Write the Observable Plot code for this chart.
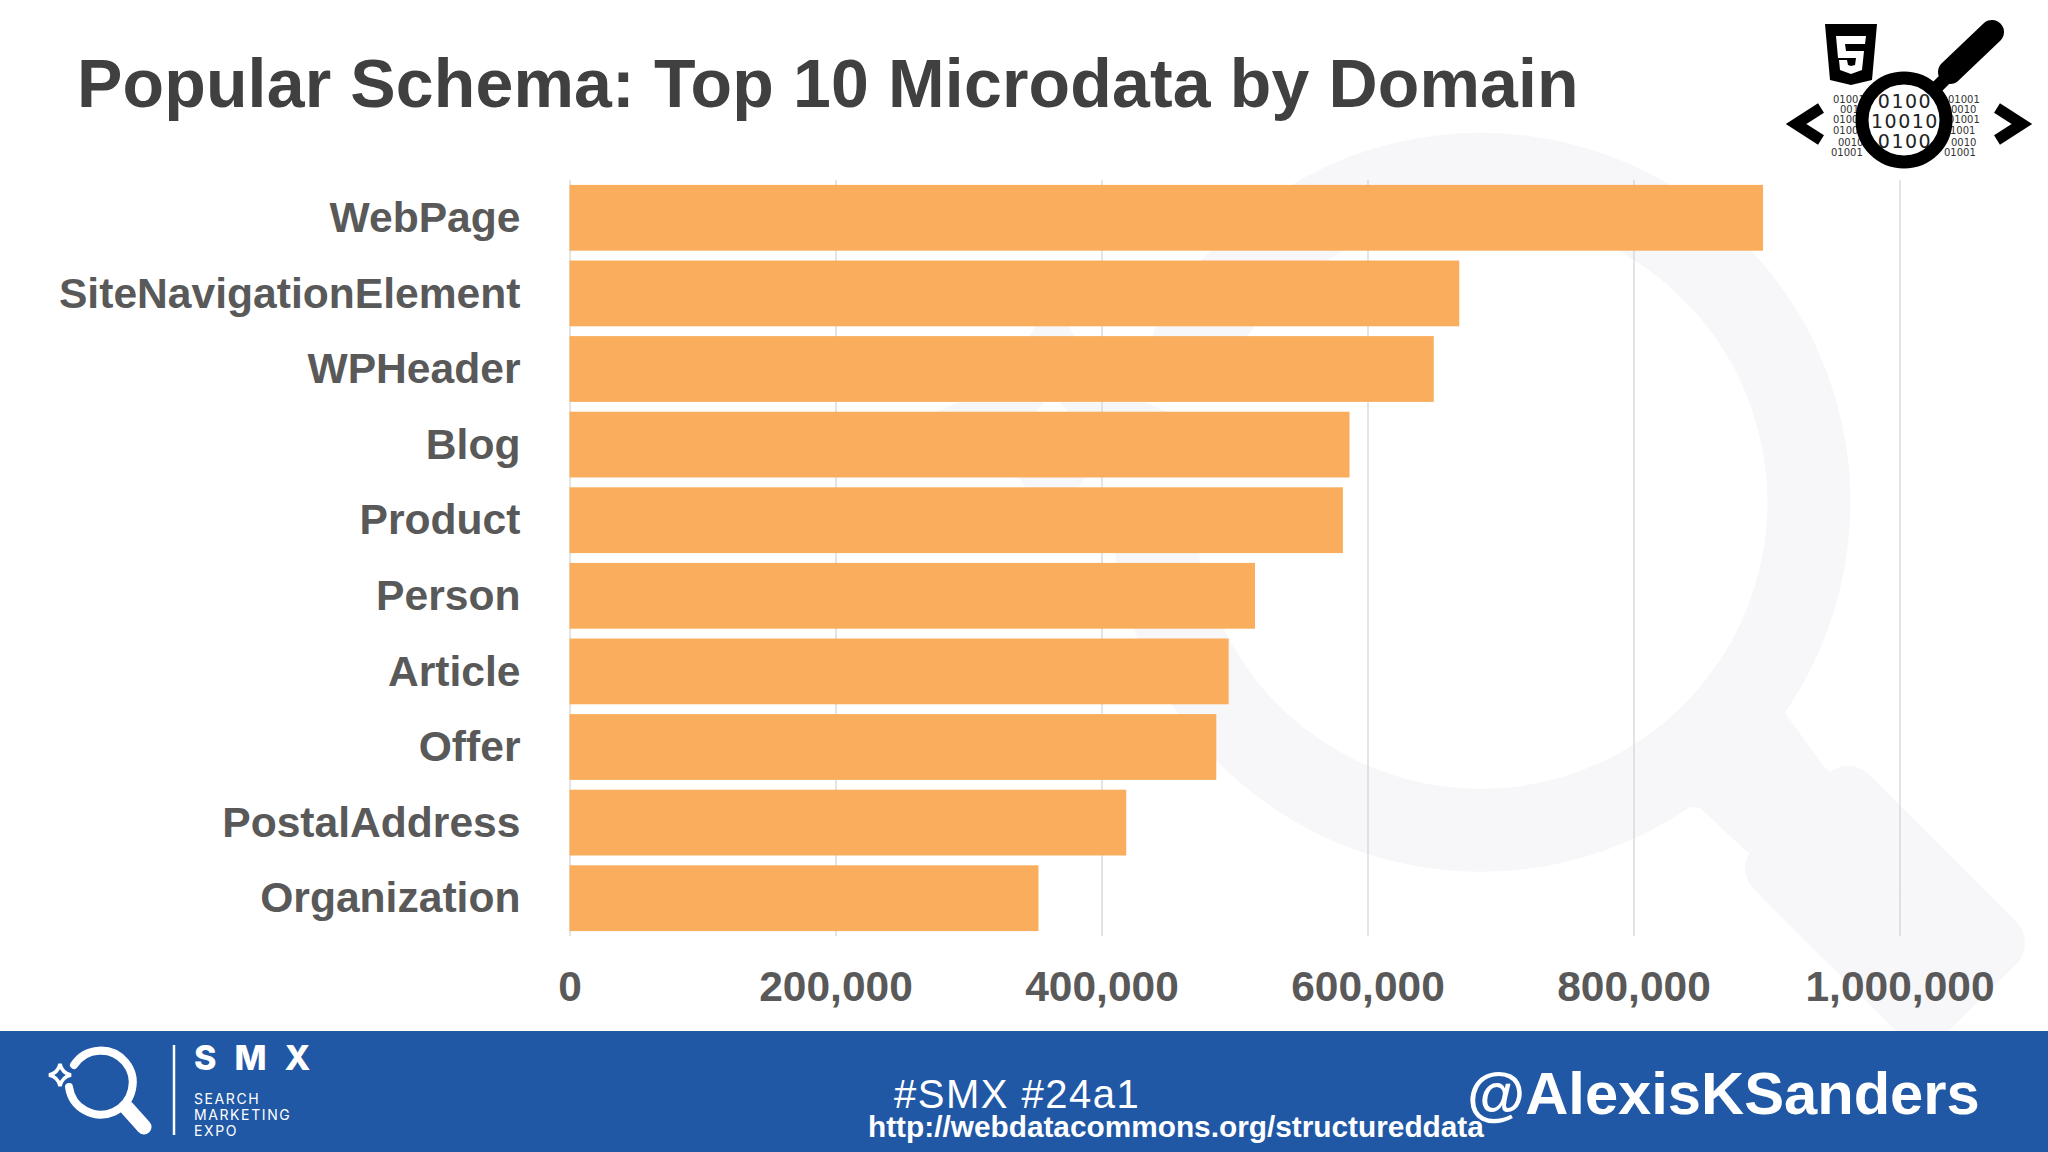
<!DOCTYPE html>
<html>
<head>
<meta charset="utf-8">
<script src="https://cdn.jsdelivr.net/npm/d3@7"></script>
<script src="https://cdn.jsdelivr.net/npm/@observablehq/plot@0.6"></script>
<style>
  html, body { margin: 0; padding: 0; background: #fff; overflow: hidden; }
  #page { position: relative; width: 2048px; height: 1152px; overflow: hidden; font-family: "Liberation Sans", Arial, sans-serif; }
  #page > * { position: absolute; }
  #watermark, #logo, #smx { left: 0; top: 0; }
  #chart { left: 0; top: 0; }
  #title { left: 77px; top: 44px; margin: 0; font-size: 68px; line-height: 78px; font-weight: bold; letter-spacing: 0.16px; color: #404040; white-space: nowrap; }
  #footer { left: 0; top: 1031px; width: 2048px; height: 121px; background: #2058a6; }
  .foot { color: #fff; white-space: nowrap; }
</style>
</head>
<body>
<div id="page">
  <svg id="watermark" width="2048" height="1152" viewBox="0 0 2048 1152">
    <g fill="#f7f6f9">
      <path d="M1193 345 A328 328 0 1 1 1155 540" fill="none" stroke="#f7f6f9" stroke-width="83" stroke-linecap="round"/>
      <path d="M1740 640 L1788 717 L1825 768 L1870 800 L1790 880 L1745 850 L1700 808 L1640 800 Z"/>
      <path d="M1848 796 L1995 943 L1922 1015 L1775 868 Z" stroke="#f7f6f9" stroke-width="60" stroke-linejoin="round"/>
      <path fill-rule="evenodd" d="M1052 285 Q1082 385 1177 415 Q1082 445 1052 545 Q1022 445 927 415 Q1022 385 1052 285 Z M1052 395 L1032 415 L1052 435 L1072 415 Z"/>
    </g>
  </svg>
  <h1 id="title">Popular Schema: Top 10 Microdata by Domain</h1>
  <div id="chart"></div>
  <svg id="logo" width="2048" height="1152" viewBox="0 0 2048 1152">
    <path d="M1825 24 H1877 L1872 80 L1851 85 L1830 80 Z" fill="#000"/>
    <path d="M1836 36 H1866 L1865 44 H1845 L1846 51 H1864 L1862 70 L1851 74 L1840 70 L1839 60 H1847 L1848 65 L1851 66 L1855 65 L1856 58 H1838 Z" fill="#fff"/>
    <path d="M1821 108 L1796 124 L1821 140" fill="none" stroke="#000" stroke-width="11"/>
    <path d="M1997 108 L2022 124 L1997 140" fill="none" stroke="#000" stroke-width="11"/>
    <g font-family="DejaVu Sans" font-size="10" fill="#333">
      <text x="1833" y="103">01001</text><text x="1840" y="113">0010</text><text x="1833" y="123">01001</text>
      <text x="1833" y="134">01001</text><text x="1838" y="146">0010</text><text x="1831" y="156">01001</text>
      <text x="1948" y="103">01001</text><text x="1951" y="113">0010</text><text x="1948" y="123">01001</text>
      <text x="1950" y="134">1001</text><text x="1951" y="146">0010</text><text x="1944" y="156">01001</text>
    </g>
    <circle cx="1904" cy="120" r="42" fill="#fff"/>
    <g font-family="DejaVu Sans" font-size="19" letter-spacing="1.5" fill="#222" text-anchor="middle">
      <text x="1905" y="108">0100</text><text x="1905" y="128">10010</text><text x="1905" y="148">0100</text>
    </g>
    <circle cx="1904" cy="120" r="42" fill="none" stroke="#000" stroke-width="13"/>
    <path d="M1936 88 L1950 74" stroke="#000" stroke-width="13"/>
    <path d="M1950 72 L1992 32" stroke="#000" stroke-width="24" stroke-linecap="round"/>
  </svg>
  <div id="footer"></div>
  <svg id="smx" width="2048" height="1152" viewBox="0 0 2048 1152">
    <path d="M74 1065 A32 32 0 1 1 69 1087" fill="none" stroke="#fff" stroke-width="8" stroke-linecap="round"/>
    <path d="M127 1108 L144 1127" stroke="#fff" stroke-width="15" stroke-linecap="round"/>
    <path d="M60 1064 Q62 1073 71 1075 Q62 1077 60 1086 Q58 1077 49 1075 Q58 1073 60 1064 Z" fill="none" stroke="#fff" stroke-width="3.5"/>
    <path d="M174 1045 V1135" stroke="#fff" stroke-width="2.5"/>
    <g fill="#fff" font-family="Inter, 'Noto Sans', sans-serif">
      <text x="194" y="1070" font-size="34" font-weight="800" letter-spacing="18">SMX</text>
      <text x="194" y="1104" font-size="14" letter-spacing="1.6">SEARCH</text>
      <text x="194" y="1120" font-size="14" letter-spacing="1.6">MARKETING</text>
      <text x="194" y="1136" font-size="14" letter-spacing="1.6">EXPO</text>
    </g>
  </svg>
  <div class="foot" style="left:894px; top:1076px; font-size:40px; letter-spacing:1.5px; line-height:36px;">#SMX #24a1</div>
  <div class="foot" style="left:868px; top:1112px; font-size:29.8px; line-height:30px; font-weight:bold;">http://webdatacommons.org/structureddata</div>
  <div class="foot" style="left:1467px; top:1059px; font-size:59.7px; line-height:70px; font-weight:bold;">@AlexisKSanders</div>
</div>
<script>
const categories = ["WebPage", "SiteNavigationElement", "WPHeader", "Blog", "Product", "Person", "Article", "Offer", "PostalAddress", "Organization"];
const domains = [897400, 669000, 649800, 586500, 581500, 515400, 495600, 486300, 418600, 352600];
const xTicks = [0, 200000, 400000, 600000, 800000, 1000000];
const rows = categories.map((name, i) => ({name, domains: domains[i]}));

const chart = Plot.plot({
  width: 2048,
  height: 1030,
  marginLeft: 569.5,
  marginRight: 148.5,
  marginTop: 180,
  marginBottom: 94,
  style: {background: "transparent", fontFamily: "Liberation Sans, Arial, sans-serif", fontWeight: "bold", color: "#595959"},
  x: {domain: [0, 1000000]},
  y: {domain: categories, paddingInner: 0.13, paddingOuter: 0.065, round: false},
  marks: [
    Plot.gridX(xTicks, {stroke: "#d9d9d9", strokeOpacity: 1, strokeWidth: 1.4}),
    Plot.barX(rows, {x: "domains", y: "name", fill: "#faad5c"}),
    Plot.axisX({ticks: xTicks, tickSize: 0, tickPadding: 34, tickFormat: d3.format(","), fontSize: 42.5, label: null}),
    Plot.axisY({tickSize: 0, tickPadding: 49.5, fontSize: 42.6, label: null})
  ]
});
document.getElementById("chart").appendChild(chart);
</script>
</body>
</html>
